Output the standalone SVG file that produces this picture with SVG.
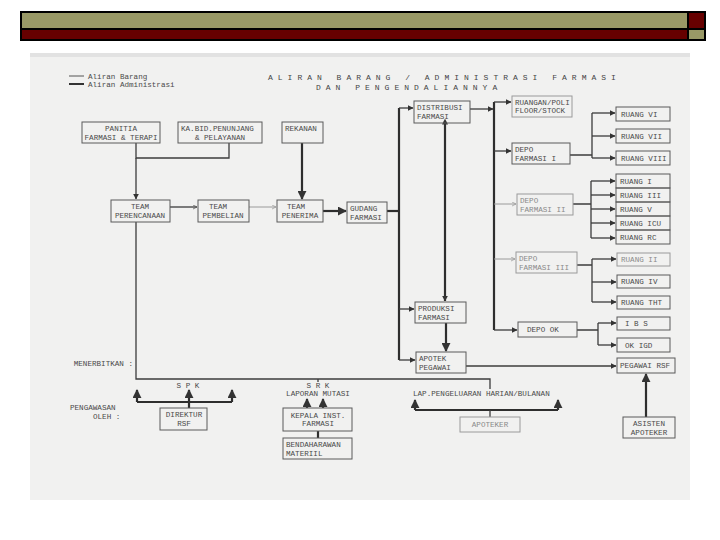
<svg xmlns="http://www.w3.org/2000/svg" width="720" height="540" viewBox="0 0 720 540">
<defs>
<style>
.bx{fill:none;stroke:#5a5a5a;stroke-width:1}
.bxf{fill:none;stroke:#9a9a9a;stroke-width:1}
.t{font-family:"Liberation Mono","DejaVu Sans Mono",monospace;font-size:7.6px;fill:#4a4a4a}
.tf{font-family:"Liberation Mono","DejaVu Sans Mono",monospace;font-size:7.6px;fill:#8a8a8a}
.c{text-anchor:middle}
.ln{fill:none;stroke:#3c3c3c;stroke-width:1.3}
.lt{fill:none;stroke:#2e2e2e;stroke-width:2.2}
.lf{fill:none;stroke:#9a9a9a;stroke-width:1}
.title{font-family:"Liberation Mono","DejaVu Sans Mono",monospace;font-size:8px;fill:#444;letter-spacing:5px}
</style>
<marker id="a" viewBox="0 0 10 10" refX="9" refY="5" markerWidth="6" markerHeight="6" markerUnits="userSpaceOnUse" orient="auto"><path d="M0,0 L10,5 L0,10 z" fill="#333"/></marker>
<marker id="as" viewBox="0 0 10 10" refX="1" refY="5" markerWidth="6" markerHeight="6" markerUnits="userSpaceOnUse" orient="auto-start-reverse"><path d="M0,0 L10,5 L0,10 z" fill="#333"/></marker>
<marker id="o" viewBox="0 0 10 10" refX="9" refY="5" markerWidth="5" markerHeight="5" markerUnits="userSpaceOnUse" orient="auto"><path d="M1,1 L9,5 L1,9" fill="none" stroke="#555" stroke-width="1.5"/></marker>
<marker id="of" viewBox="0 0 10 10" refX="9" refY="5" markerWidth="5" markerHeight="5" markerUnits="userSpaceOnUse" orient="auto"><path d="M1,1 L9,5 L1,9" fill="none" stroke="#999" stroke-width="1.5"/></marker>
<marker id="big" viewBox="0 0 10 10" refX="9" refY="5" markerWidth="9" markerHeight="9" markerUnits="userSpaceOnUse" orient="auto"><path d="M0,0 L10,5 L0,10 z" fill="#333"/></marker>
</defs>
<rect width="720" height="540" fill="#ffffff"/>
<g id="header">
<rect x="20" y="11" width="686" height="30" fill="#000"/>
<rect x="22" y="13" width="665" height="15" fill="#999966"/>
<rect x="22" y="30" width="665" height="9" fill="#660000"/>
<rect x="689" y="13" width="15" height="15" fill="#660000"/>
<rect x="689" y="30" width="15" height="9" fill="#999966"/>
</g>
<rect x="30" y="53" width="660" height="447" fill="#f1f1f0"/>
<rect x="30" y="53" width="660" height="4" fill="#e2e2e2"/>
<g id="legend">
<line x1="69" y1="76" x2="84" y2="76" stroke="#555" stroke-width="1"/>
<line x1="69" y1="84" x2="84" y2="84" stroke="#333" stroke-width="2"/>
<text class="t" x="88" y="78.5">Aliran Barang</text>
<text class="t" x="88" y="86.5">Aliran Administrasi</text>
</g>
<g id="title">
<text class="title" x="268" y="79.5">ALIRAN BARANG / ADMINISTRASI FARMASI</text>
<text class="title" x="316" y="89.5">DAN PENGENDALIANNYA</text>
</g>
<g id="connectors">
<path class="ln" d="M136,143 V158 H229 V143"/>
<path class="ln" d="M136,158 V199" marker-end="url(#a)"/>
<path class="lt" d="M302,143 V199" marker-end="url(#big)"/>
<path class="ln" d="M170,207 H197" marker-end="url(#o)"/>
<path class="lf" d="M249,207 H276" marker-end="url(#of)"/>
<path class="lt" d="M323,211 H346" marker-end="url(#big)"/>
<path class="lt" d="M387,211 H399"/>
<path class="lt" d="M399,108 V360"/>
<path class="ln" d="M399,108 H413" marker-end="url(#a)"/>
<path class="ln" d="M399,309 H414" marker-end="url(#a)"/>
<path class="ln" d="M399,360 H415" marker-end="url(#a)"/>
<path class="lt" d="M445,124 V301" marker-start="url(#as)" marker-end="url(#a)"/>
<path class="lt" d="M446,323 V351" marker-end="url(#big)"/>
<path class="ln" d="M470,109 H493" marker-end="url(#a)"/>
<path class="lt" d="M494,102 V330"/>
<path class="ln" d="M494,102 H511" marker-end="url(#a)"/>
<path class="ln" d="M494,151 H511" marker-end="url(#a)"/>
<path class="lf" d="M494,204 H516" marker-end="url(#of)"/>
<path class="lf" d="M494,259 H515" marker-end="url(#of)"/>
<path class="ln" d="M494,330 H517" marker-end="url(#a)"/>
<path class="ln" d="M570,155 H592 M592,113 V158"/>
<path class="ln" d="M592,113 H615" marker-end="url(#a)"/>
<path class="ln" d="M592,136 H615" marker-end="url(#a)"/>
<path class="ln" d="M592,158 H615" marker-end="url(#a)"/>
<path class="ln" d="M573,204 H591 M591,181 V238"/>
<path class="ln" d="M591,181 H615" marker-end="url(#a)"/>
<path class="ln" d="M591,195 H615" marker-end="url(#a)"/>
<path class="ln" d="M591,209 H615" marker-end="url(#a)"/>
<path class="ln" d="M591,223 H615" marker-end="url(#a)"/>
<path class="ln" d="M591,238 H615" marker-end="url(#a)"/>
<path class="ln" d="M577,265 H592 M592,259 V302"/>
<path class="ln" d="M592,259 H616" marker-end="url(#a)"/>
<path class="ln" d="M592,282 H616" marker-end="url(#a)"/>
<path class="ln" d="M592,302 H616" marker-end="url(#a)"/>
<path class="ln" d="M577,330 H598 M598,323 V345"/>
<path class="ln" d="M598,323 H616" marker-end="url(#a)"/>
<path class="ln" d="M598,345 H616" marker-end="url(#a)"/>
<path class="ln" d="M466,366 H616" marker-end="url(#a)"/>
<path class="ln" d="M136,222 V379 H490 V389"/>
<path class="ln" d="M318,379 V382"/>
<path class="lt" d="M137,402 H232"/>
<path class="lt" d="M137,402 V390" marker-end="url(#big)"/>
<path class="lt" d="M189,408 V390" marker-end="url(#big)"/>
<path class="lt" d="M232,402 V390" marker-end="url(#big)"/>
<path class="lt" d="M307,408 V399" marker-end="url(#big)"/>
<path class="lt" d="M323,408 V399" marker-end="url(#big)"/>
<path class="lt" d="M318,431 V438"/>
<path class="lt" d="M415,410 H558"/>
<path class="lt" d="M415,410 V400" marker-end="url(#big)"/>
<path class="lt" d="M558,410 V400" marker-end="url(#big)"/>
<path class="ln" d="M490,417 V410"/>
<path class="lt" d="M646,417 V374" marker-end="url(#big)"/>
</g>
<g id="panitia"><rect class="bx" x="82" y="122" width="78" height="21"/><text class="t c" x="121" y="131">PANITIA</text><text class="t c" x="121" y="139.5">FARMASI &amp; TERAPI</text></g>
<g id="kabid"><rect class="bx" x="178" y="122" width="84" height="21"/><text class="t" x="181" y="131">KA.BID.PENUNJANG</text><text class="t c" x="220" y="139.5">&amp; PELAYANAN</text></g>
<g id="rekanan"><rect class="bx" x="282" y="122" width="41" height="21"/><text class="t" x="285" y="131">REKANAN</text></g>
<g id="perencanaan"><rect class="bx" x="111" y="200" width="59" height="22"/><text class="t c" x="140" y="209">TEAM</text><text class="t c" x="140" y="217.5">PERENCANAAN</text></g>
<g id="pembelian"><rect class="bx" x="198" y="200" width="51" height="22"/><text class="t c" x="218" y="209">TEAM</text><text class="t c" x="223" y="217.5">PEMBELIAN</text></g>
<g id="penerima"><rect class="bx" x="277" y="200" width="46" height="22"/><text class="t c" x="296" y="209">TEAM</text><text class="t c" x="300" y="217.5">PENERIMA</text></g>
<g id="gudang"><rect class="bx" x="347" y="202" width="40" height="21"/><text class="t" x="350" y="211">GUDANG</text><text class="t" x="350" y="219.5">FARMASI</text></g>
<g id="distribusi"><rect class="bx" x="414" y="101" width="56" height="22"/><text class="t" x="417" y="110">DISTRIBUSI</text><text class="t" x="417" y="118.5">FARMASI</text></g>
<g id="ruangan"><rect class="bxf" x="512" y="96" width="60" height="21"/><text class="t" x="515" y="104.5">RUANGAN/POLI</text><text class="t" x="515" y="113">FLOOR/STOCK</text></g>
<g id="depo1"><rect class="bx" x="512" y="143" width="58" height="21"/><text class="t" x="515" y="152">DEPO</text><text class="t" x="515" y="160.5">FARMASI I</text></g>
<g id="depo2"><rect class="bxf" x="517" y="194" width="56" height="21"/><text class="tf" x="520" y="203">DEPO</text><text class="tf" x="520" y="211.5">FARMASI II</text></g>
<g id="depo3"><rect class="bxf" x="516" y="252" width="61" height="21"/><text class="tf" x="519" y="261">DEPO</text><text class="tf" x="519" y="269.5">FARMASI III</text></g>
<g id="depook"><rect class="bx" x="518" y="322" width="59" height="15"/><text class="t" x="527" y="332">DEPO OK</text></g>
<g id="produksi"><rect class="bx" x="415" y="302" width="51" height="21"/><text class="t" x="418" y="311">PRODUKSI</text><text class="t" x="418" y="319.5">FARMASI</text></g>
<g id="apotek"><rect class="bx" x="416" y="352" width="50" height="21"/><text class="t" x="419" y="361">APOTEK</text><text class="t" x="419" y="369.5">PEGAWAI</text></g>
<g id="r6"><rect class="bx" x="616" y="107" width="54" height="14"/><text class="t" x="621" y="116.5">RUANG VI</text></g>
<g id="r7"><rect class="bx" x="616" y="129" width="54" height="14"/><text class="t" x="621" y="138.5">RUANG VII</text></g>
<g id="r8"><rect class="bx" x="616" y="151" width="54" height="14"/><text class="t" x="621" y="160.5">RUANG VIII</text></g>
<g id="r1"><rect class="bx" x="616" y="174" width="54" height="14"/><text class="t" x="620" y="183.5">RUANG I</text></g>
<g id="r3"><rect class="bx" x="616" y="188" width="54" height="14"/><text class="t" x="620" y="197.5">RUANG III</text></g>
<g id="r5"><rect class="bx" x="616" y="202" width="54" height="14"/><text class="t" x="620" y="211.5">RUANG V</text></g>
<g id="ricu"><rect class="bx" x="616" y="216" width="54" height="14"/><text class="t" x="620" y="225.5">RUANG ICU</text></g>
<g id="rrc"><rect class="bx" x="616" y="230" width="54" height="14"/><text class="t" x="620" y="239.5">RUANG RC</text></g>
<g id="r2"><rect class="bxf" x="617" y="253" width="53" height="13"/><text class="tf" x="621" y="262">RUANG II</text></g>
<g id="r4"><rect class="bx" x="617" y="275" width="53" height="13"/><text class="t" x="621" y="284">RUANG IV</text></g>
<g id="rtht"><rect class="bx" x="617" y="296" width="53" height="13"/><text class="t" x="621" y="305">RUANG THT</text></g>
<g id="ibs"><rect class="bx" x="617" y="317" width="53" height="13"/><text class="t" x="625" y="326">I B S</text></g>
<g id="okigd"><rect class="bx" x="617" y="338" width="53" height="14"/><text class="t" x="625" y="347.5">OK IGD</text></g>
<g id="pegawairsf"><rect class="bx" x="617" y="358" width="58" height="15"/><text class="t" x="620" y="368">PEGAWAI RSF</text></g>
<g id="direktur"><rect class="bx" x="160" y="408" width="47" height="22"/><text class="t c" x="184" y="417">DIREKTUR</text><text class="t c" x="184" y="425.5">RSF</text></g>
<g id="kepala"><rect class="bx" x="283" y="408" width="69" height="23"/><text class="t c" x="318" y="417.5">KEPALA INST.</text><text class="t c" x="318" y="426">FARMASI</text></g>
<g id="bendahara"><rect class="bx" x="283" y="438" width="69" height="21"/><text class="t" x="286" y="447">BENDAHARAWAN</text><text class="t" x="286" y="455.5">MATERIIL</text></g>
<g id="apoteker"><rect class="bxf" x="460" y="417" width="60" height="15"/><text class="tf c" x="490" y="427">APOTEKER</text></g>
<g id="asisten"><rect class="bx" x="623" y="417" width="52" height="21"/><text class="t c" x="649" y="426">ASISTEN</text><text class="t c" x="649" y="434.5">APOTEKER</text></g>
<g id="labels">
<text class="t" x="133" y="366" text-anchor="end">MENERBITKAN :</text>
<text class="t c" x="188" y="388">S P K</text>
<text class="t c" x="318" y="388">S R K</text>
<text class="t c" x="318" y="396">LAPORAN MUTASI</text>
<text class="t" x="413" y="396">LAP.PENGELUARAN HARIAN/BULANAN</text>
<text class="t" x="70" y="410">PENGAWASAN</text>
<text class="t" x="93" y="419">OLEH :</text>
</g>
</svg>
